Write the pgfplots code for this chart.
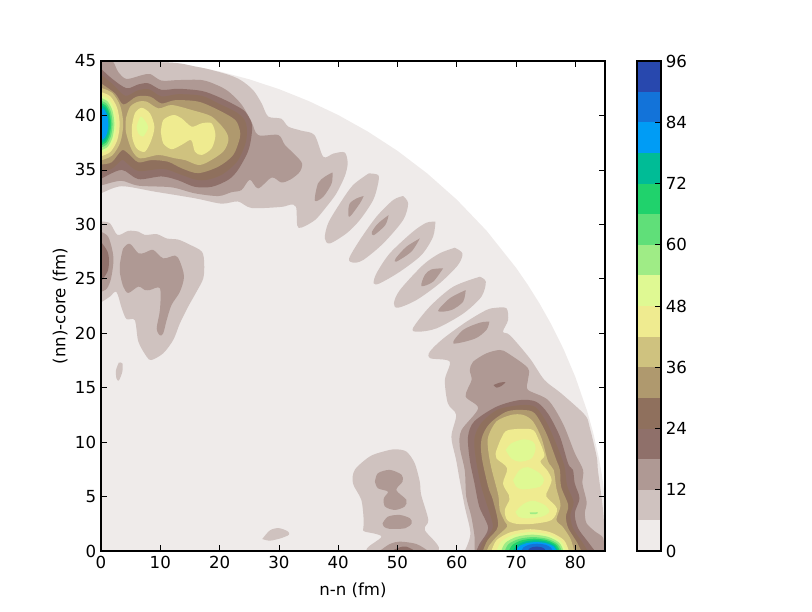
\documentclass[border=0pt]{standalone}
\usepackage{fontspec}
\setmainfont{DejaVu Sans}
\usepackage{pgfplots}
\pgfplotsset{compat=1.18}

% terrain_r, sixteen layers of 6
\definecolor{lev0}{HTML}{EFEBEA}
\definecolor{lev1}{HTML}{CFC2BF}
\definecolor{lev2}{HTML}{AF9994}
\definecolor{lev3}{HTML}{8F706A}
\definecolor{lev4}{HTML}{8F705D}
\definecolor{lev5}{HTML}{AF996E}
\definecolor{lev6}{HTML}{CFC27F}
\definecolor{lev7}{HTML}{EFEB90}
\definecolor{lev8}{HTML}{DFF993}
\definecolor{lev9}{HTML}{9FEC86}
\definecolor{lev10}{HTML}{60DF79}
\definecolor{lev11}{HTML}{20D26C}
\definecolor{lev12}{HTML}{00BC96}
\definecolor{lev13}{HTML}{009CF5}
\definecolor{lev14}{HTML}{1373D9}
\definecolor{lev15}{HTML}{2848AE}

\pgfplotsset{
  mplaxis/.style={
    scale only axis, axis on top,
    tick align=inside, major tick length=4pt,
    tick style={black, line width=0.5pt},
    axis line style={line width=1pt},
    /pgf/number format/assume math mode=true,
    tick label style={font=\fontsize{12}{14}\selectfont},
    label style={font=\fontsize{12}{14}\selectfont},
  },
}

\begin{document}
\begin{tikzpicture}
\path[use as bounding box] (0,0) rectangle (8.12in,6.12in);
\begin{axis}[mplaxis, at={(1.01in,0.61in)}, anchor=south west,
  width=5.04in, height=4.9in,
  xmin=0, xmax=85, ymin=0, ymax=45,
  xtick={0,10,...,80}, ytick={0,5,...,45},
  xlabel={n-n (fm)}, ylabel={(nn)-core (fm)},
  xlabel style={yshift=-0.045in}, ylabel style={yshift=-0.02in},
  every axis plot/.append style={smooth, tension=0.5},
]
% level 0
\addplot[sharp plot,fill=lev0,draw=none] coordinates {(0,0)(0,45)(10,44.99)(15,44.6)(20,44.04)(25,43.32)(30,42.42)(35,41.33)(40,40.04)(45,38.52)(50,36.75)(55,34.68)(60,32.27)(65,29.43)(70,26.01)(72,24.43)(74,22.69)(76,20.75)(78,18.55)(80,15.98)(82,12.83)(83,10.88)(84,8.45)(84.5,6.91)(85,4.9)(85,0)} --cycle;

% level 1
\addplot[fill=lev1,draw=none] coordinates {(0,45)(11.9,44.85)(15.8,44.5)(18.1,44.25)(21.7,43.7)(23.7,43.2)(25.7,42.3)(27.1,41.1)(28.2,39.9)(30.4,39.7)(31.6,38.97)(33.8,38.6)(36,38.2)(37.5,36.2)(39.2,36.5)(41.1,36.6)(41.6,35.6)(41.1,34.4)(39.7,32.84)(38,31.6)(36.1,30.4)(33.8,29.7)(33.1,29.9)(32.9,31.6)(31.9,31.8)(30.4,31.6)(25.4,31.5)(23.1,32.1)(20.3,31.9)(15.8,32.4)(9.1,33)(3.5,33.5)(0.2,32.9)(0,32.9)} --cycle;
\addplot[fill=lev1,draw=none] coordinates {(0,30.25)(1.5,30.1)(2.8,29.02)(4.6,29.4)(6.3,29.33)(7.4,29.02)(9.4,29.1)(11.1,28.7)(13,28.6)(14.7,28.2)(17,27.5)(17.4,26.4)(17.25,25.04)(16.1,23.8)(14.7,22.44)(13.3,20.9)(12.2,19.4)(10.5,18.16)(8.5,17.54)(7.7,17.85)(6.3,19.23)(5.7,21.2)(4.3,21.3)(3.5,22.3)(2.6,23.8)(1.5,23.36)(0.2,22.9)(0,22.9)} --cycle;
\addplot[fill=lev1,draw=none] coordinates {(3,17.3)(3.6,17.24)(3.6,16.47)(3,15.65)(2.6,15.86)(2.53,16.6)(3,17.3)} --cycle;
\addplot[fill=lev1,draw=none] coordinates {(45.17,34.68)(46.74,34.53)(46.74,33.76)(45.9,32.23)(43.65,30.4)(41.4,29.17)(38.6,28.25)(37.75,28.71)(38.3,30.09)(40.3,31.92)(42.5,33.6)(45.17,34.68)} --cycle;
\addplot[fill=lev1,draw=none] coordinates {(50.96,32.6)(51.8,31.92)(50.96,30.4)(47.6,28.25)(44.2,26.72)(42.5,26.48)(41.85,26.87)(43.65,28.56)(46.46,30.7)(49.27,32.23)(50.96,32.6)} --cycle;
\addplot[fill=lev1,draw=none] coordinates {(56.4,30.24)(56,28.86)(54.04,27.18)(50.4,25.65)(47,24.58)(46,24.58)(46.46,25.5)(48.7,27.33)(52.6,29.32)(54.9,30.15)(56.4,30.24)} --cycle;
\addplot[fill=lev1,draw=none] coordinates {(59.66,27.85)(60.96,27.33)(60.2,26.26)(57.1,24.58)(53.2,23.05)(50.1,22.34)(49.4,22.74)(50.4,23.96)(54.3,26.26)(57.1,27.33)(59.66,27.85)} --cycle;
\addplot[fill=lev1,draw=none] coordinates {(63.9,25.19)(64.9,24.73)(64.15,23.35)(61.07,21.8)(56.6,20.45)(53.5,20.14)(52.6,20.45)(55.45,22.44)(59.4,24.27)(63.9,25.19)} --cycle;
\addplot[fill=lev1,draw=none] coordinates {(61.35,0)(62.3,1.6)(61.35,4.07)(60.5,6.5)(59.9,8.35)(59.1,10.5)(59.9,12.5)(58.5,13.56)(58,15.7)(58.8,17.4)(55.56,17.7)(55.45,18.3)(57.7,19.5)(61.65,21.06)(65,22.13)(66.7,22.34)(68.4,22.28)(68.65,21.2)(67.8,20.14)(69,19.8)(72.3,17.7)(74.8,15.7)(77.6,14.48)(81.6,12.5)(82.4,11.4)(83.6,8.66)(83.8,7.44)(84.4,5)(84.8,2.85)(84.8,0)} --cycle;
\addplot[fill=lev1,draw=none] coordinates {(44.2,1.94)(44.3,2.85)(43.9,4.7)(42.5,6.2)(42.8,7.45)(45.3,8.67)(47.6,9.13)(49.55,9.34)(51.5,9.13)(52.9,8.06)(53.76,6.37)(54,5.15)(55.2,2.85)(54.6,1.94)(56.7,0)(45.05,0)(47.3,1.32)(44.5,1.78)(44.2,1.94)} --cycle;
\addplot[fill=lev1,draw=none] coordinates {(27.2,1.1)(28.5,1.9)(30,2.1)(31.5,1.8)(31.7,1.5)(30.5,1.2)(28.5,0.95)(27.2,1.1)} --cycle;

% level 2
\addplot[fill=lev2,draw=none] coordinates {(0,45)(1.9,45)(2.9,44)(4.3,43.35)(6.9,43.7)(8.3,43.8)(10.2,43.2)(13,43.25)(17,43.25)(19.5,42.8)(21.5,42.2)(23.7,41)(25.4,39.4)(26.5,38.2)(29.9,38.2)(31,37.3)(32.7,36.4)(33.9,35.6)(33.5,34.8)(31.9,34.1)(30.4,33.85)(28.8,34.3)(26.5,33.3)(25.1,34.1)(23.7,33.15)(22,32.95)(19.8,32.6)(15.8,32.85)(11.9,33.4)(6.3,33.55)(3.4,34)(0.2,33.6)(0,33.6)} --cycle;
\addplot[fill=lev2,draw=none] coordinates {(0,29.33)(1.2,28.87)(1.9,27.65)(2.1,26.6)(1.7,25.04)(1,24.1)(0,23.8)} --cycle;
\addplot[fill=lev2,draw=none] coordinates {(3.2,26.4)(3.76,27.8)(4.9,28.2)(6.3,27.34)(7.4,27.4)(8.8,27.65)(10.5,26.88)(12.5,27.13)(13.3,26.6)(14,25.2)(13.3,23.8)(11.9,22.6)(11.07,21.2)(10.5,20)(9.94,19.8)(9.4,20.45)(9.94,22.14)(9.94,24.13)(8.26,23.97)(7.4,23.97)(6.3,24.28)(4.6,23.7)(3.76,24.28)(3.2,25.5)(3.2,26.4)} --cycle;
\addplot[fill=lev2,draw=none] coordinates {(39.04,34.77)(38.9,33.76)(37.5,32.54)(36.07,32.17)(36.6,33.76)(37.75,34.37)(39.04,34.77)} --cycle;
\addplot[fill=lev2,draw=none] coordinates {(44.3,32.6)(43.65,31.92)(41.96,30.7)(41.7,31.16)(41.96,31.92)(43.1,32.38)(44.3,32.6)} --cycle;
\addplot[fill=lev2,draw=none] coordinates {(48.5,30.85)(47.95,29.93)(46,29)(45.7,29.32)(46.74,30.09)(48.5,30.85)} --cycle;
\addplot[fill=lev2,draw=none] coordinates {(53.76,28.7)(52.36,27.5)(49.8,26.57)(49.7,26.87)(51.5,27.94)(53.76,28.7)} --cycle;
\addplot[fill=lev2,draw=none] coordinates {(57.7,25.96)(56,24.73)(54.04,24.33)(54.6,25.34)(55.73,25.86)(57.7,25.96)} --cycle;
\addplot[fill=lev2,draw=none] coordinates {(61.5,23.96)(61.07,22.9)(59.1,22.13)(56.85,22.04)(58.8,23.2)(61.5,23.96)} --cycle;
\addplot[fill=lev2,draw=none] coordinates {(65.5,21.06)(65,20.3)(63.05,19.5)(59.4,19.07)(61.07,20.3)(63.9,20.97)(65.5,21.06)} --cycle;
\addplot[fill=lev2,draw=none] coordinates {(63,0)(63,1.3)(62.45,3.16)(61.6,5)(61.35,7.4)(60.5,9.6)(60.8,11.1)(63.6,13.1)(61.5,14.2)(62.5,15.7)(62.2,16.6)(62.75,17.38)(65,18.15)(67.25,18.46)(68.65,18.15)(72,16.8)(72,15.7)(72,14.8)(75.4,13.86)(77.9,11.7)(79.9,9)(81.3,7.44)(81.2,6.2)(81.9,4.5)(81.6,3.5)(81.9,2.54)(83.3,1.8)(84.7,1.2)(84.8,0)} --cycle;
\addplot[fill=lev2,draw=none] coordinates {(46.2,6.37)(46.7,7.14)(48.7,7.45)(50.7,7)(50.85,6.37)(49.8,5.6)(51.5,4.7)(51.2,4.08)(49.55,3.77)(47.9,4.08)(47.7,4.84)(48.4,5.45)(46.7,5.76)(46.2,6.37)} --cycle;
\addplot[fill=lev2,draw=none] coordinates {(47.5,2.55)(48.4,3.16)(50.4,3.31)(52.1,3)(52.4,2.55)(51.3,2.09)(48.7,2.03)(47.7,2.24)(47.5,2.55)} --cycle;
\addplot[fill=lev2,draw=none] coordinates {(47,0)(48.7,0.64)(50.4,0.86)(53.2,0.64)(55.2,0)} --cycle;

% level 3
\addplot[fill=lev3,draw=none] coordinates {(0,44.3)(1.8,43.4)(4.3,42.5)(6.3,42.85)(8,42.95)(10.2,42.35)(13,42.45)(17,42.25)(19.8,41.7)(22.6,40.95)(24.3,40.35)(25.4,39.3)(25.4,38.2)(24.8,36.7)(23.1,35)(21.5,34.1)(18.7,33.45)(15.8,33.45)(13,34.05)(10.2,34.4)(6.3,34.15)(3.5,35)(0.2,34.25)(0,34.25)} --cycle;
\addplot[fill=lev3,draw=none] coordinates {(0,28.4)(1.1,27.5)(1.35,26.6)(1.1,25.66)(0,24.74)} --cycle;
\addplot[fill=lev3,draw=none] coordinates {(63.3,0)(63.9,0.7)(65.3,2.1)(63.8,4.07)(63,6.2)(62.2,8.35)(61.9,10.5)(62.95,11.9)(66.7,13.25)(70.6,13.86)(73.4,13.7)(75.4,12.6)(77.4,10.5)(78.8,8)(79.6,7.44)(79.9,6.2)(80.7,4.84)(79.9,3.46)(80.45,2.1)(82.1,0.86)(83.3,0)} --cycle;
\addplot[fill=lev3,draw=none] coordinates {(66.2,15.24)(67.25,15.46)(68.2,15.5)(67.5,15.15)(66.7,15)(66.2,15.24)} --cycle;
\addplot[fill=lev3,draw=none] coordinates {(49,0)(50.4,0.34)(51.5,0.4)(53,0)} --cycle;

% level 4
\addplot[fill=lev4,draw=none] coordinates {(0,43.75)(2,42.85)(4.1,41.8)(6.2,42.3)(8.1,42.4)(10.2,41.75)(13,41.95)(17,41.8)(19.8,41.1)(22.8,40.3)(24.2,39.6)(24.6,38.8)(24.4,37.5)(23,35.8)(20.5,34.6)(18,34.1)(16,34.1)(13.3,34.6)(10.5,35.1)(6.3,34.9)(4.2,35.7)(3.5,35.9)(1.8,35.1)(0,34.9)} --cycle;
\addplot[fill=lev4,draw=none] coordinates {(63.8,0)(64.5,0.9)(66.1,2.2)(65,4.4)(64.1,6)(63.2,8.5)(63,10.4)(64.2,11.8)(67,13)(70.9,13.4)(73.3,13.2)(75.25,11.7)(77.1,9.4)(78.2,7.7)(78.6,6)(79.7,4.5)(79.15,3.3)(79.6,2.1)(81.1,0.86)(82.1,0)} --cycle;

% level 5
\addplot[fill=lev5,draw=none] coordinates {(0,42.95)(2.4,42)(3.8,41)(6,41.73)(8.3,41.73)(10.2,41.1)(12.5,41.4)(16.4,41.27)(19.8,40.5)(22.6,39.6)(23.4,38.66)(23.4,37.9)(22.3,36.37)(19.8,35.3)(16.4,34.7)(13.6,35.15)(11.3,35.75)(8.5,35.9)(6.3,35.7)(4.6,36.5)(3.5,36.8)(1.8,35.7)(0,35.5)} --cycle;
\addplot[fill=lev5,draw=none] coordinates {(64.4,0)(65.2,1)(66.97,2.3)(66.1,4.68)(65.3,5.9)(64.2,8.66)(64.2,10.35)(65.55,11.7)(68.4,12.8)(71.2,12.95)(73.15,12.64)(75.1,10.8)(76.8,8.35)(77.4,7.44)(77.6,5.9)(78.8,4.2)(78.4,3.16)(78.8,2.1)(80.2,0.86)(81,0)} --cycle;

% level 6
\addplot[fill=lev6,draw=none] coordinates {(0,42.53)(1.88,42.08)(3.25,40.87)(3.75,39.2)(3.25,37.53)(1.88,36.32)(0,35.87)} --cycle;
\addplot[fill=lev6,draw=none] coordinates {(4.2,39.73)(4.9,40.8)(6.3,41.27)(7.7,41.27)(9.7,40.65)(11.9,40.96)(15.3,40.5)(18.65,39.9)(20.9,38.66)(21.5,37.74)(20.6,36.67)(18.1,35.75)(16.4,35.45)(14.2,35.9)(12.5,36.06)(9.7,36.37)(6.6,36.06)(5.2,36.83)(4.2,38.5)(4.2,39.73)} --cycle;
\addplot[fill=lev6,draw=none] coordinates {(65.1,0)(65.4,0.45)(66.7,1.3)(68.5,2.23)(68.1,2.7)(67.25,3.76)(67,5.14)(65.84,7.6)(65.3,9.27)(65.3,10.5)(66.7,11.9)(69.2,12.5)(71.2,12.5)(72.85,11.9)(74.3,10.35)(75.4,8.2)(76.35,7.44)(76.8,5.76)(77.5,4.2)(76.8,2.85)(77.9,2.2)(79.2,1.1)(79.8,0)} --cycle;

% level 7
\addplot[fill=lev7,draw=none] coordinates {(0,42.15)(1.58,41.75)(2.73,40.68)(3.15,39.2)(2.73,37.72)(1.58,36.65)(0,36.25)} --cycle;
\addplot[fill=lev7,draw=none] coordinates {(5.2,38.97)(5.7,40.19)(6.85,40.7)(8.26,40.19)(9,38.97)(8.5,37.75)(7.4,36.67)(6,36.98)(5.3,37.9)(5.2,38.97)} --cycle;
\addplot[fill=lev7,draw=none] coordinates {(10.1,38.5)(10.5,39.58)(12.2,40.04)(13.6,39.73)(15.3,38.97)(17,39.28)(18.65,39.28)(19.3,38.2)(18.65,36.98)(17,36.37)(15.84,36.67)(15.2,37.74)(13.6,37.3)(11.9,36.9)(10.5,37.44)(10.1,38.5)} --cycle;
\addplot[fill=lev7,draw=none] coordinates {(66.6,9.1)(67.5,10.35)(68.65,11.1)(72.6,11.17)(73.7,10.35)(74.8,8.8)(74.1,8.2)(75.4,7.3)(76,6.5)(75.4,5.6)(75.1,5)(76.9,3.9)(76,2.85)(72.9,2.5)(70.05,2.5)(68.5,2.85)(68.1,3.76)(68.9,4.7)(68.8,5.14)(67.8,6.2)(68.5,7.6)(66.7,8.5)(66.6,9.1)} --cycle;
\addplot[fill=lev7,draw=none] coordinates {(65.85,0)(66.73,1)(69.1,1.73)(72.4,2)(75.7,1.73)(78.07,1)(78.9,0)} --cycle;

% level 8
\addplot[fill=lev8,draw=none] coordinates {(0,41.85)(1.3,41.5)(2.25,40.53)(2.6,39.2)(2.25,37.88)(1.3,36.9)(0,36.55)} --cycle;
\addplot[fill=lev8,draw=none] coordinates {(6,38.97)(6.7,39.9)(7.7,39.28)(7.9,38.8)(7.1,38.05)(6.3,38.35)(6,38.97)} --cycle;
\addplot[fill=lev8,draw=none] coordinates {(68.25,9.27)(69.2,9.88)(71.2,10.25)(72.85,10.04)(73.3,9.43)(72.6,8.5)(70.6,8.2)(69.2,8.5)(68.25,9.27)} --cycle;
\addplot[fill=lev8,draw=none] coordinates {(69.5,6.5)(70.6,7.44)(72,7.7)(74,7.13)(74.7,6.5)(74,5.9)(71.2,5.66)(70.05,5.9)(69.5,6.5)} --cycle;
\addplot[fill=lev8,draw=none] coordinates {(69.9,3.6)(71.2,4.3)(72.85,4.62)(74.9,4.2)(75.6,3.6)(74.3,3.15)(71.7,3)(70.4,3.15)(69.9,3.6)} --cycle;
\addplot[fill=lev8,draw=none] coordinates {(66.7,0)(67.5,0.87)(69.6,1.5)(72.55,1.74)(75.5,1.5)(77.6,0.87)(78.4,0)} --cycle;

% level 9
\addplot[fill=lev9,draw=none] coordinates {(0,41.6)(1.13,41.28)(1.95,40.4)(2.25,39.2)(1.95,38)(1.13,37.12)(0,36.8)} --cycle;
\addplot[fill=lev9,draw=none] coordinates {(72.3,3.55)(73.7,3.55)(73.4,3.4)(72.4,3.4)(72.3,3.55)} --cycle;
\addplot[fill=lev9,draw=none] coordinates {(67.5,0)(68.2,0.75)(70.1,1.3)(72.75,1.5)(75.4,1.3)(77.3,0.75)(78,0)} --cycle;

% level 10
\addplot[fill=lev10,draw=none] coordinates {(0,41.35)(0.98,41.06)(1.69,40.28)(1.95,39.2)(1.69,38.13)(0.98,37.34)(0,37.05)} --cycle;
\addplot[fill=lev10,draw=none] coordinates {(68.1,0)(68.75,0.64)(70.5,1.11)(72.9,1.28)(75.3,1.11)(77.05,0.64)(77.7,0)} --cycle;

% level 11
\addplot[fill=lev11,draw=none] coordinates {(0,41.15)(0.85,40.89)(1.47,40.18)(1.7,39.2)(1.47,38.23)(0.85,37.51)(0,37.25)} --cycle;
\addplot[fill=lev11,draw=none] coordinates {(68.8,0)(69.4,0.56)(70.95,0.98)(73.1,1.13)(75.25,0.98)(76.8,0.56)(77.4,0)} --cycle;

% level 12
\addplot[fill=lev12,draw=none] coordinates {(0,40.95)(0.75,40.72)(1.3,40.08)(1.5,39.2)(1.3,38.33)(0.75,37.68)(0,37.45)} --cycle;
\addplot[fill=lev12,draw=none] coordinates {(69.5,0)(70,0.49)(71.4,0.85)(73.3,0.98)(75.2,0.85)(76.6,0.49)(77.1,0)} --cycle;

% level 13
\addplot[fill=lev13,draw=none] coordinates {(0,40.68)(0.62,40.48)(1.07,39.94)(1.24,39.2)(1.07,38.46)(0.62,37.92)(0,37.72)} --cycle;
\addplot[fill=lev13,draw=none] coordinates {(70,0)(70.45,0.41)(71.7,0.71)(73.4,0.82)(75.1,0.71)(76.35,0.41)(76.8,0)} --cycle;

% level 14, 15
\addplot[fill=lev14,draw=none] coordinates {(70.9,0)(71.25,0.33)(72.2,0.58)(73.55,0.67)(74.9,0.58)(75.85,0.33)(76.2,0)} --cycle;
\addplot[fill=lev15,draw=none] coordinates {(72,0)(72.2,0.2)(72.75,0.35)(73.5,0.4)(74.25,0.35)(74.8,0.2)(75,0)} --cycle;
\end{axis}

% colour bar
\begin{axis}[mplaxis, at={(6.37in,0.61in)}, anchor=south west,
  width=0.24in, height=4.9in,
  xmin=0, xmax=1, ymin=0, ymax=96,
  xtick=\empty, ytick={0,12,...,96}, ytick pos=right, yticklabel pos=right,
]
\addplot[fill=lev0,draw=none] coordinates {(0,0)(1,0)(1,6)(0,6)} --cycle;
\addplot[fill=lev1,draw=none] coordinates {(0,6)(1,6)(1,12)(0,12)} --cycle;
\addplot[fill=lev2,draw=none] coordinates {(0,12)(1,12)(1,18)(0,18)} --cycle;
\addplot[fill=lev3,draw=none] coordinates {(0,18)(1,18)(1,24)(0,24)} --cycle;
\addplot[fill=lev4,draw=none] coordinates {(0,24)(1,24)(1,30)(0,30)} --cycle;
\addplot[fill=lev5,draw=none] coordinates {(0,30)(1,30)(1,36)(0,36)} --cycle;
\addplot[fill=lev6,draw=none] coordinates {(0,36)(1,36)(1,42)(0,42)} --cycle;
\addplot[fill=lev7,draw=none] coordinates {(0,42)(1,42)(1,48)(0,48)} --cycle;
\addplot[fill=lev8,draw=none] coordinates {(0,48)(1,48)(1,54)(0,54)} --cycle;
\addplot[fill=lev9,draw=none] coordinates {(0,54)(1,54)(1,60)(0,60)} --cycle;
\addplot[fill=lev10,draw=none] coordinates {(0,60)(1,60)(1,66)(0,66)} --cycle;
\addplot[fill=lev11,draw=none] coordinates {(0,66)(1,66)(1,72)(0,72)} --cycle;
\addplot[fill=lev12,draw=none] coordinates {(0,72)(1,72)(1,78)(0,78)} --cycle;
\addplot[fill=lev13,draw=none] coordinates {(0,78)(1,78)(1,84)(0,84)} --cycle;
\addplot[fill=lev14,draw=none] coordinates {(0,84)(1,84)(1,90)(0,90)} --cycle;
\addplot[fill=lev15,draw=none] coordinates {(0,90)(1,90)(1,96)(0,96)} --cycle;
\end{axis}
\end{tikzpicture}
\end{document}
